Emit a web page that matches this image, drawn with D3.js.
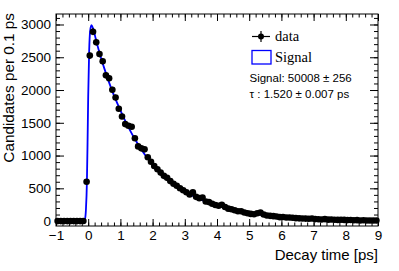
<!DOCTYPE html>
<html><head><meta charset="utf-8">
<script src="https://cdn.jsdelivr.net/npm/d3@7"></script>
<style>
html,body{margin:0;padding:0;background:#fff;}
svg{display:block;}
</style></head>
<body>
<svg id="c" width="399" height="271"></svg>
<script>
// ---- data ----
const binCenters = d3.range(100).map(i => +(-0.95 + 0.1 * i).toFixed(2));
const counts = [
  0, 0, 0, 0, 0, 0, 0, 0, 2, 600,
  2525, 2890, 2730, 2550, 2440, 2225, 2180, 2005, 1885, 1715,
  1595, 1480, 1455, 1440, 1265, 1140, 1110, 1095, 975, 905,
  840, 790, 740, 690, 660, 610, 570, 540, 500, 470,
  440, 405, 440, 370, 350, 360, 300, 290, 265, 245,
  235, 250, 215, 190, 180, 165, 150, 150, 130, 120,
  110, 105, 120, 130, 100, 85, 80, 75, 70, 60,
  62, 55, 55, 50, 45, 42, 40, 38, 35, 40,
  30, 28, 25, 30, 22, 25, 20, 18, 20, 18,
  15, 16, 12, 14, 10, 12, 10, 9, 10, 8
];
const fitT = [-1, -0.2, -0.14, -0.1, -0.07, -0.04, -0.02, 0, 0.03, 0.06, 0.1, 0.15, 0.25, 0.35, 0.5, 0.75, 1, 1.25, 1.5, 1.75, 2, 2.25, 2.5, 2.75, 3, 3.5, 4, 4.5, 5, 5.5, 6, 6.5, 7, 7.5, 8, 8.5, 9];
const fitV = [0, 0, 2, 30, 180, 600, 1200, 1900, 2600, 2900, 2990, 2940, 2750, 2570, 2330, 1980, 1690, 1430, 1210, 1020, 870, 740, 620, 530, 450, 325, 235, 168, 120, 86, 62, 44, 32, 23, 16, 12, 8];
const xTicks = [-1, 0, 1, 2, 3, 4, 5, 6, 7, 8, 9];
const yTicks = [0, 500, 1000, 1500, 2000, 2500, 3000];
const legendLabels = ["data", "Signal"];
const fitText = ["Signal: 50008 \u00b1 256", "\u03c4 : 1.520 \u00b1 0.007 ps"];

// ---- layout ----
const L = 56, R = 378, T = 14, B = 226;
const svg = d3.select("#c");
const x = d3.scaleLinear().domain([-1, 9]).range([L, R]);
const y = d3.scaleLinear().domain([-75, 3160]).range([B, T]);
const sans = "'Liberation Sans', Arial, Helvetica, sans-serif";
const serif = "'Liberation Serif', 'Times New Roman', serif";

// fit curve
svg.append("path")
  .datum(fitT.map((t, i) => [t, fitV[i]]))
  .attr("fill", "none").attr("stroke", "#0000ff").attr("stroke-width", 1.8)
  .attr("d", d3.line().x(d => x(d[0])).y(d => y(d[1])).curve(d3.curveMonotoneX));

// data points
const pts = binCenters.map((t, i) => ({t, v: counts[i]}));
const g = svg.append("g");
g.selectAll("line.ey").data(pts).join("line")
  .attr("x1", d => x(d.t)).attr("x2", d => x(d.t))
  .attr("y1", d => y(d.v - Math.sqrt(d.v))).attr("y2", d => y(d.v + Math.sqrt(d.v)))
  .attr("stroke", "#000").attr("stroke-width", 1);
g.selectAll("line.ex").data(pts).join("line")
  .attr("x1", d => x(d.t - 0.05)).attr("x2", d => x(d.t + 0.05))
  .attr("y1", d => y(d.v)).attr("y2", d => y(d.v))
  .attr("stroke", "#000").attr("stroke-width", 1.2);
g.selectAll("circle").data(pts).join("circle")
  .attr("cx", d => x(d.t)).attr("cy", d => y(d.v)).attr("r", 3.3).attr("fill", "#000");

// axes
const xMinor = d3.range(-1, 9.001, 0.2).map(v => +v.toFixed(2));
const yMinor = d3.range(0, 3101, 100);
function styleAxis(sel) {
  sel.select(".domain").remove();
  sel.selectAll("line").attr("stroke", "#000").attr("stroke-width", 1);
  sel.selectAll("text").attr("font-family", sans).attr("font-size", 13.5).attr("fill", "#000");
}
const fmtX = d => d < 0 ? "\u2212" + Math.abs(d) : String(d);
svg.append("g").attr("transform", `translate(0,${B})`)
  .call(d3.axisBottom(x).tickValues(xTicks).tickSize(-7).tickPadding(4.5).tickFormat(fmtX)).call(styleAxis);
svg.append("g").attr("transform", `translate(0,${B})`)
  .call(d3.axisBottom(x).tickValues(xMinor).tickSize(-3.5).tickFormat("")).call(styleAxis);
svg.append("g").attr("transform", `translate(0,${T})`)
  .call(d3.axisTop(x).tickValues(xTicks).tickSize(-7).tickFormat("")).call(styleAxis);
svg.append("g").attr("transform", `translate(0,${T})`)
  .call(d3.axisTop(x).tickValues(xMinor).tickSize(-3.5).tickFormat("")).call(styleAxis);
svg.append("g").attr("transform", `translate(${L},0)`)
  .call(d3.axisLeft(y).tickValues(yTicks).tickSize(-8).tickPadding(5).tickFormat(d3.format("d"))).call(styleAxis);
svg.append("g").attr("transform", `translate(${L},0)`)
  .call(d3.axisLeft(y).tickValues(yMinor).tickSize(-4).tickFormat("")).call(styleAxis);
svg.append("g").attr("transform", `translate(${R},0)`)
  .call(d3.axisRight(y).tickValues(yTicks).tickSize(-8).tickFormat("")).call(styleAxis);
svg.append("g").attr("transform", `translate(${R},0)`)
  .call(d3.axisRight(y).tickValues(yMinor).tickSize(-4).tickFormat("")).call(styleAxis);

// frame
svg.append("rect").attr("x", L).attr("y", T).attr("width", R - L).attr("height", B - T)
  .attr("fill", "none").attr("stroke", "#000").attr("stroke-width", 1);

// axis titles
svg.append("text").attr("x", R).attr("y", 260).attr("text-anchor", "end")
  .attr("font-family", sans).attr("font-size", 15).text("Decay time [ps]");
svg.append("text").attr("transform", `translate(14,${T - 1}) rotate(-90)`).attr("text-anchor", "end")
  .attr("font-family", sans).attr("font-size", 15.3).text("Candidates per 0.1 ps");

// legend
const lg = svg.append("g");
lg.append("line").attr("x1", 252).attr("x2", 270).attr("y1", 36.5).attr("y2", 36.5).attr("stroke", "#000").attr("stroke-width", 1.2);
lg.append("line").attr("x1", 261).attr("x2", 261).attr("y1", 31).attr("y2", 42).attr("stroke", "#000").attr("stroke-width", 1.2);
lg.append("circle").attr("cx", 261).attr("cy", 36.5).attr("r", 3).attr("fill", "#000");
lg.append("text").attr("x", 275).attr("y", 40.5).attr("font-family", serif).attr("font-size", 14.5).text(legendLabels[0]);
lg.append("rect").attr("x", 252).attr("y", 50.5).attr("width", 19).attr("height", 13.5).attr("fill", "none").attr("stroke", "#0000ff").attr("stroke-width", 1.3);
lg.append("text").attr("x", 275).attr("y", 61.5).attr("font-family", serif).attr("font-size", 14.5).text(legendLabels[1]);
lg.selectAll("text.fit").data(fitText).join("text")
  .attr("x", 249.5).attr("y", (d, i) => 81.5 + i * 16)
  .attr("font-family", sans).attr("font-size", 11.5).text(d => d);
</script>
</body></html>
